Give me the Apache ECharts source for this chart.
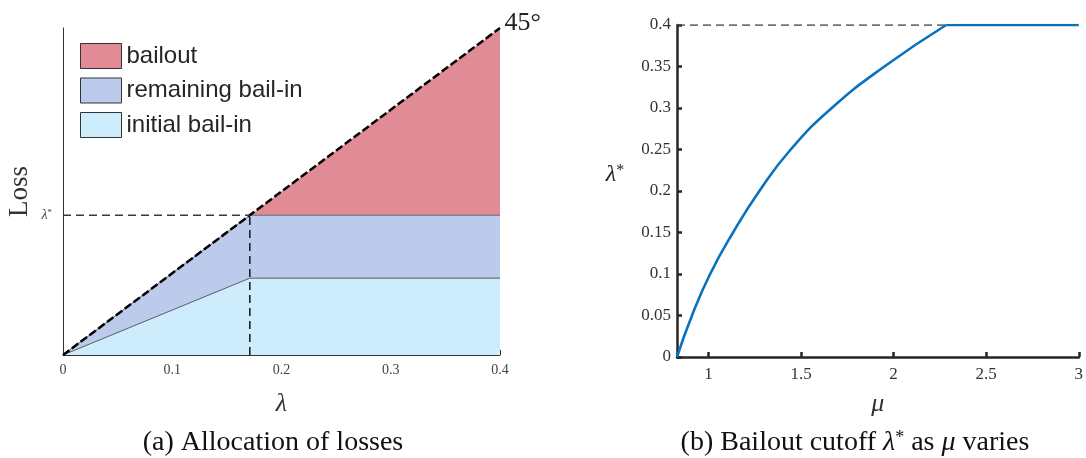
<!DOCTYPE html>
<html>
<head>
<meta charset="utf-8">
<script src="https://cdn.jsdelivr.net/npm/echarts@6/dist/echarts.min.js"></script>
<style>
  html, body { margin: 0; padding: 0; background: #fff; }
  #main { width: 1086px; height: 458px; }
</style>
</head>
<body>
<div id="main"></div>
<script>
// panel (a): allocation of losses
const lambdaStar = 0.171;
const lossX = [0, lambdaStar, 0.4];
const bailoutTop = [0, lambdaStar, 0.4];          // the 45 degree line
const remainingTop = [0, lambdaStar, lambdaStar];
const initialTop = [0, 0.094, 0.094];

// panel (b): bailout cutoff as mu varies
const muValues = [0.83, 0.911, 1.009, 1.133, 1.275, 1.444, 1.666, 1.95, 2.284, 3];
const cutoffValues = [0, 0.05, 0.1, 0.15, 0.2, 0.25, 0.3, 0.35, 0.4, 0.4];
const muTicks = [1, 1.5, 2, 2.5, 3];

const serif = '"Liberation Serif", "DejaVu Serif", serif';
const sans = '"Liberation Sans", Arial, sans-serif';
const bailColor = '#e18b97';
const remainColor = '#bccbec';
const initColor = '#cdedfc';

const zip = (xs, ys) => xs.map((x, i) => [x, ys[i]]);
const kink = cutoffValues.indexOf(0.4);
const curveData = zip(muValues, cutoffValues).slice(0, kink + 1);
const plateauData = zip(muValues, cutoffValues).slice(kink);

const chart = echarts.init(document.getElementById('main'));

const option = {
  animation: false,
  backgroundColor: '#fff',
  grid: [
    { left: 63, top: 28, width: 437, height: 327 },
    { left: 677, top: 25, width: 405, height: 332 }
  ],
  legend: {
    orient: 'vertical',
    left: 80,
    top: 43,
    padding: 0,
    icon: 'rect',
    itemWidth: 41,
    itemHeight: 25,
    itemGap: 8.5,
    selectedMode: false,
    itemStyle: { borderColor: '#333', borderWidth: 1 },
    textStyle: { fontFamily: sans, fontSize: 24, lineHeight: 25, color: '#262626' },
    data: ['bailout', 'remaining bail-in', 'initial bail-in']
  },
  xAxis: [
    {
      gridIndex: 0, type: 'value', min: 0, max: 0.4, interval: 0.1,
      name: 'λ', nameLocation: 'middle', nameGap: 36,
      nameTextStyle: { fontFamily: serif, fontStyle: 'italic', fontSize: 26, color: '#333' },
      axisLine: { lineStyle: { color: '#333', width: 1 } },
      axisTick: { inside: true, length: 5, lineStyle: { color: '#333' } },
      axisLabel: { fontFamily: serif, fontSize: 14, color: '#444', margin: 8 },
      splitLine: { show: false }
    },
    {
      gridIndex: 1, type: 'value', min: 0.83, max: 3,
      name: 'μ', nameLocation: 'middle', nameGap: 34,
      nameTextStyle: { fontFamily: serif, fontStyle: 'italic', fontSize: 26, color: '#333' },
      axisLine: { lineStyle: { color: '#262626', width: 2.5 } },
      axisTick: { inside: true, length: 5, customValues: muTicks, lineStyle: { color: '#262626', width: 2.5 } },
      axisLabel: { customValues: muTicks, fontFamily: serif, fontSize: 17, color: '#333', margin: 9 },
      splitLine: { show: false }
    }
  ],
  yAxis: [
    {
      gridIndex: 0, type: 'value', min: 0, max: 0.4,
      name: 'Loss', nameLocation: 'middle', nameGap: 30,
      nameTextStyle: { fontFamily: serif, fontSize: 27, color: '#333' },
      axisLine: { show: true, lineStyle: { color: '#333', width: 1 } },
      axisTick: { inside: true, length: 6, customValues: [lambdaStar], lineStyle: { color: '#333' } },
      axisLabel: {
        customValues: [lambdaStar], margin: 11,
        formatter: () => '{l|λ}{s|*}',
        rich: {
          l: { fontFamily: serif, fontStyle: 'italic', fontSize: 14, color: '#444' },
          s: { fontFamily: serif, fontSize: 9, color: '#444', verticalAlign: 'top' }
        }
      },
      splitLine: { show: false }
    },
    {
      gridIndex: 1, type: 'value', min: 0, max: 0.4, interval: 0.05,
      axisLine: { show: true, lineStyle: { color: '#262626', width: 2.5 } },
      axisTick: { inside: true, length: 5, lineStyle: { color: '#262626', width: 2.5 } },
      axisLabel: { fontFamily: serif, fontSize: 17, color: '#333', margin: 6 },
      splitLine: { show: false }
    }
  ],
  series: [
    {
      name: 'bailout', type: 'line', xAxisIndex: 0, yAxisIndex: 0,
      data: zip(lossX, bailoutTop), symbol: 'none',
      itemStyle: { color: bailColor },
      lineStyle: { width: 0 },
      areaStyle: { color: bailColor, opacity: 1 }
    },
    {
      name: 'remaining bail-in', type: 'line', xAxisIndex: 0, yAxisIndex: 0,
      data: zip(lossX, remainingTop), symbol: 'none',
      itemStyle: { color: remainColor },
      lineStyle: { color: '#666a78', width: 1 },
      areaStyle: { color: remainColor, opacity: 1 }
    },
    {
      name: 'initial bail-in', type: 'line', xAxisIndex: 0, yAxisIndex: 0,
      data: zip(lossX, initialTop), symbol: 'none',
      itemStyle: { color: initColor },
      lineStyle: { color: '#5a5e66', width: 1 },
      areaStyle: { color: initColor, opacity: 1 }
    },
    {
      type: 'line', xAxisIndex: 0, yAxisIndex: 0,
      data: [[lossX[0], bailoutTop[0]], [lossX[2], bailoutTop[2]]], symbol: 'none',
      lineStyle: { color: '#000', width: 2.5, type: [8, 3] },
      markPoint: {
        symbol: 'circle', symbolSize: 1,
        itemStyle: { color: 'transparent' },
        label: {
          show: true, position: 'right', distance: 4, offset: [0, -5],
          formatter: '45°', fontFamily: serif, fontSize: 26, color: '#222'
        },
        data: [{ coord: [lossX[2], bailoutTop[2]] }]
      }
    },
    {
      type: 'line', xAxisIndex: 0, yAxisIndex: 0,
      data: [[0, lambdaStar], [lambdaStar, lambdaStar]], symbol: 'none',
      lineStyle: { color: '#3a3a3a', width: 1.6, type: [8, 5] }
    },
    {
      type: 'line', xAxisIndex: 0, yAxisIndex: 0,
      data: [[lambdaStar, 0], [lambdaStar, lambdaStar]], symbol: 'none',
      lineStyle: { color: '#222', width: 1.6, type: [8, 5] }
    },
    {
      type: 'line', xAxisIndex: 1, yAxisIndex: 1,
      data: [[muValues[0], 0.4], plateauData[0]], symbol: 'none',
      lineStyle: { color: '#444', width: 1.6, type: [8, 5] }
    },
    {
      type: 'line', xAxisIndex: 1, yAxisIndex: 1,
      data: curveData, symbol: 'none', smooth: 0.5,
      lineStyle: { color: '#0a72bd', width: 2.6 }
    },
    {
      type: 'line', xAxisIndex: 1, yAxisIndex: 1,
      data: plateauData, symbol: 'none',
      lineStyle: { color: '#0a72bd', width: 2.6 }
    }
  ],
  graphic: [
    {
      type: 'text', x: 273, y: 443,
      style: {
        text: '(a) Allocation of losses',
        fontFamily: serif, fontSize: 28, fill: '#111',
        align: 'center', verticalAlign: 'middle'
      }
    },
    {
      type: 'text', x: 855, y: 443,
      style: {
        text: '(b) Bailout cutoff {m|λ}{s|*} as {m|μ} varies',
        fontFamily: serif, fontSize: 28, fill: '#111',
        align: 'center', verticalAlign: 'middle',
        rich: {
          m: { fontFamily: serif, fontStyle: 'italic', fontSize: 28, fill: '#111' },
          s: { fontFamily: serif, fontSize: 18, fill: '#111', verticalAlign: 'top' }
        }
      }
    },
    {
      type: 'text', x: 615, y: 175,
      style: {
        text: '{m|λ}{s|*}',
        align: 'center', verticalAlign: 'middle',
        rich: {
          m: { fontFamily: serif, fontStyle: 'italic', fontSize: 24, fill: '#222' },
          s: { fontFamily: serif, fontSize: 16, fill: '#222', verticalAlign: 'top' }
        }
      }
    }
  ]
};

chart.setOption(option);
</script>
</body>
</html>
